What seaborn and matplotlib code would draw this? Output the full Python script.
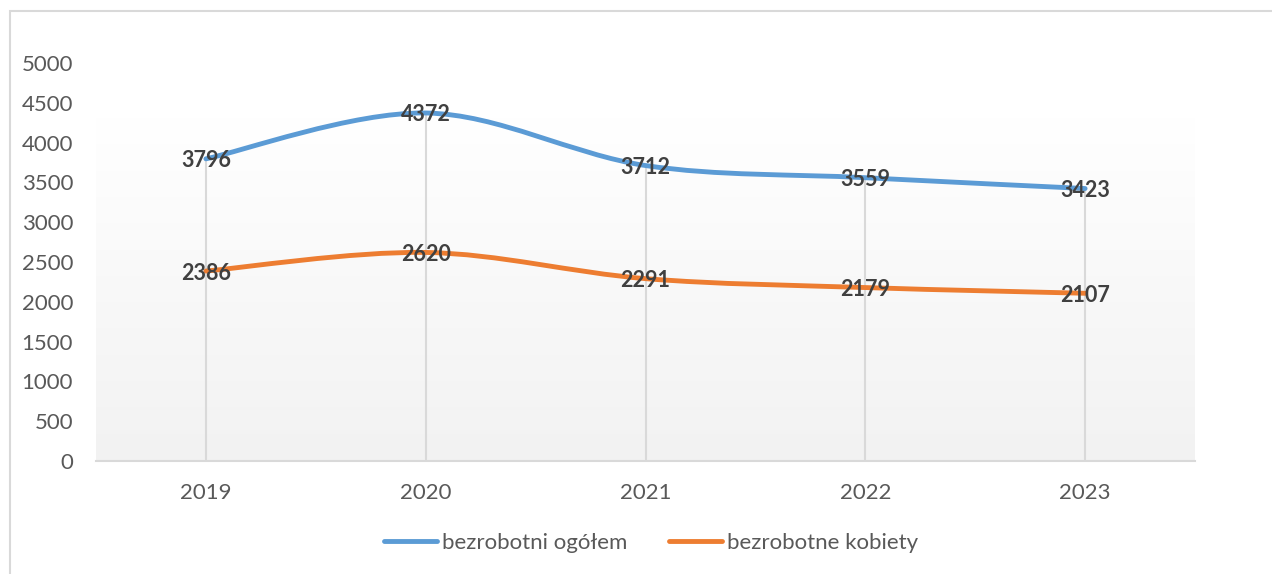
import numpy as np
import matplotlib
matplotlib.use("Agg")
import matplotlib.pyplot as plt
from matplotlib.path import Path
from matplotlib.patches import PathPatch, Rectangle
from matplotlib.lines import Line2D
from matplotlib.colors import LinearSegmentedColormap
from matplotlib.transforms import ScaledTranslation
import seaborn as sns

years = ["2019", "2020", "2021", "2022", "2023"]
ogolem = [3796, 4372, 3712, 3559, 3423]
kobiety = [2386, 2620, 2291, 2179, 2107]
series_names = ["bezrobotni ogółem", "bezrobotne kobiety"]
yticks = [0, 500, 1000, 1500, 2000, 2500, 3000, 3500, 4000, 4500, 5000]

BLUE = "#5B9BD5"
ORANGE = "#ED7D31"
TXT = "#595959"
LBL = "#404040"
GRID = "#D9D9D9"

sns.set_theme(style="white")
plt.rcParams["font.family"] = ["Lato", "DejaVu Sans"]

W, H = 1272, 574
fig = plt.figure(figsize=(W / 100, H / 100), dpi=100)
ax = fig.add_axes([96 / W, 1 - 461 / H, (1195 - 96) / W, (461 - 63) / H])

x = np.arange(len(years))
ax.set_xlim(-0.5, len(years) - 0.5)
ax.set_ylim(0, 5000)

# gradient plot-area fill
ytop = 4320
grad = np.linspace(0, 1, 256).reshape(-1, 1)
cmap = LinearSegmentedColormap.from_list("g", ["#F2F2F2", "#FFFFFF"])
ax.imshow(grad, extent=(-0.5, len(years) - 0.5, 0, ytop), origin="lower",
          cmap=cmap, aspect="auto", zorder=0)


def smooth_path(xs, ys):
    pts = np.column_stack([xs, ys]).astype(float)
    n = len(pts)
    verts = [pts[0]]
    codes = [Path.MOVETO]
    for i in range(n - 1):
        p0 = pts[max(i - 1, 0)]
        p1 = pts[i]
        p2 = pts[i + 1]
        p3 = pts[min(i + 2, n - 1)]
        c1 = p1 + (p2 - p0) / 6.0
        c2 = p2 - (p3 - p1) / 6.0
        verts += [c1, c2, p2]
        codes += [Path.CURVE4] * 3
    return Path(verts, codes)


# drop lines
ax.vlines(x, 0, np.maximum(ogolem, kobiety), color=GRID, lw=1.5, zorder=1)

shift = ax.transData + ScaledTranslation(0, -2 / 100, fig.dpi_scale_trans)
for vals, col in [(ogolem, BLUE), (kobiety, ORANGE)]:
    patch = PathPatch(smooth_path(x, vals), facecolor="none", edgecolor=col,
                      lw=3.5, capstyle="round", zorder=3)
    ax.add_patch(patch)
    for xi, v in zip(x, vals):
        ax.text(xi, v, f"{v}", ha="center", va="center", fontsize=15.5,
                fontweight="bold", color=LBL, zorder=4, transform=shift)

ax.set_xticks(x)
ax.set_xticklabels(years)
ax.set_yticks(yticks)
ax.set_yticklabels([str(t) for t in yticks])
ax.tick_params(axis="x", length=0, pad=15.5, labelsize=16, labelcolor=TXT)
ax.tick_params(axis="y", length=0, pad=16.5, labelsize=16, labelcolor=TXT)
ax.grid(False)
for s in ["top", "right", "left"]:
    ax.spines[s].set_visible(False)
ax.spines["bottom"].set_color(GRID)
ax.spines["bottom"].set_linewidth(1.5)
ax.spines["bottom"].set_zorder(2)
ax.set_facecolor("none")

handles = [Line2D([], [], color=BLUE, lw=3.5, solid_capstyle="round"),
           Line2D([], [], color=ORANGE, lw=3.5, solid_capstyle="round")]
leg = fig.legend(handles, series_names, loc="center", bbox_to_anchor=(651 / W, 1 - 543 / H),
                 ncol=2, frameon=False, fontsize=16, handlelength=2.4, handletextpad=0.22,
                 columnspacing=1.85)
for t in leg.get_texts():
    t.set_color(TXT)

# chart border (cropped at right/bottom)
fig.patches.append(Rectangle((10 / W, -0.1), 1.2, 1 - 11 / H + 0.1, transform=fig.transFigure,
                             fill=False, edgecolor=GRID, lw=1.5))

fig.savefig("out.png", dpi=100)
